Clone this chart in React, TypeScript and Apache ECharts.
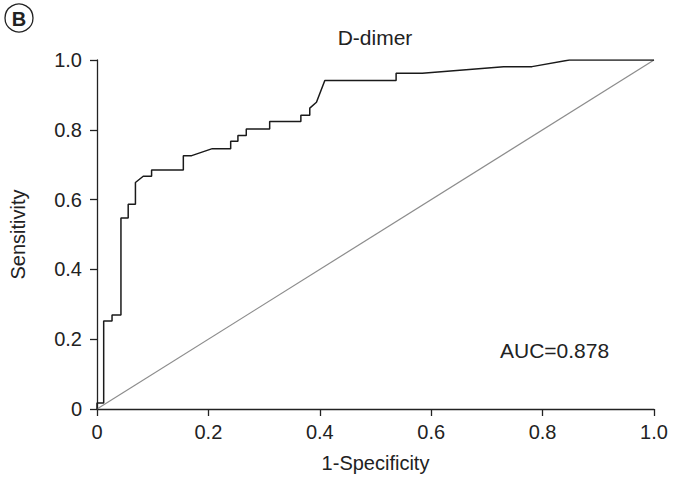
import React, { useEffect, useRef } from "react";
import * as echarts from "echarts";

const fpr = [0, 0, 0.012, 0.012, 0.027, 0.027, 0.043, 0.043, 0.056, 0.056, 0.069, 0.069, 0.083, 0.098, 0.098, 0.155, 0.155, 0.17, 0.207, 0.24, 0.24, 0.253, 0.253, 0.268, 0.268, 0.31, 0.31, 0.366, 0.366, 0.382, 0.382, 0.394, 0.409, 0.537, 0.537, 0.584, 0.73, 0.781, 0.848, 1.0];
const tpr = [0, 0.017, 0.017, 0.252, 0.252, 0.269, 0.269, 0.547, 0.547, 0.587, 0.587, 0.649, 0.667, 0.667, 0.685, 0.685, 0.726, 0.726, 0.746, 0.746, 0.767, 0.767, 0.784, 0.784, 0.802, 0.802, 0.824, 0.824, 0.842, 0.842, 0.862, 0.879, 0.941, 0.941, 0.962, 0.962, 0.981, 0.981, 1.0, 1.0];
const refX = [0, 1];
const refY = [0, 1];
const titleText = "D-dimer";
const aucText = "AUC=0.878";
const xName = "1-Specificity";
const yName = "Sensitivity";
const panelLabel = "B";

const FONT = "'Liberation Sans', Arial, sans-serif";
const fmt = (v: number) => (v === 0 ? "0" : v.toFixed(1));

export default function App() {
  const ref = useRef<HTMLDivElement>(null);
  useEffect(() => {
    if (!ref.current) return;
    const chart = echarts.init(ref.current, undefined, { renderer: "svg" });
    const axisCommon = {
      type: "value" as const,
      min: 0,
      max: 1,
      interval: 0.2,
      nameLocation: "middle" as const,
      nameTextStyle: { fontFamily: FONT, fontSize: 20, color: "#222" },
      axisLine: { show: true, lineStyle: { color: "#222", width: 1.3 } },
      axisTick: { show: true, length: 7, lineStyle: { color: "#222", width: 1.3 } },
      axisLabel: { formatter: fmt, fontFamily: FONT, fontSize: 20, color: "#222" },
      splitLine: { show: false },
    };
    chart.setOption({
      animation: false,
      backgroundColor: "#fff",
      grid: { left: 96, right: 19, top: 60, bottom: 67, containLabel: false },
      xAxis: { ...axisCommon, name: xName, nameGap: 44, axisLabel: { ...axisCommon.axisLabel, margin: 13 } },
      yAxis: { ...axisCommon, name: yName, nameGap: 69, axisLabel: { ...axisCommon.axisLabel, margin: 15 } },
      series: [
        {
          type: "line",
          data: refX.map((x, i) => [x, refY[i]]),
          symbol: "none",
          lineStyle: { color: "#8c8c8c", width: 1.2 },
          z: 1,
        },
        {
          type: "line",
          data: fpr.map((x, i) => [x, tpr[i]]),
          symbol: "none",
          lineStyle: { color: "#1a1a1a", width: 1.5 },
          z: 2,
        },
      ],
      graphic: [
        {
          type: "text",
          x: 375,
          y: 37,
          style: { text: titleText, font: `21px ${FONT}`, fill: "#222", align: "center", verticalAlign: "middle" },
        },
        {
          type: "text",
          x: 500,
          y: 350,
          style: { text: aucText, font: `21px ${FONT}`, fill: "#222", align: "left", verticalAlign: "middle" },
        },
        {
          type: "circle",
          shape: { cx: 19, cy: 18, r: 14 },
          style: { fill: "none", stroke: "#222", lineWidth: 1.3 },
        },
        {
          type: "text",
          x: 19,
          y: 19,
          style: { text: panelLabel, font: `bold 20px ${FONT}`, fill: "#222", align: "center", verticalAlign: "middle" },
        },
      ],
    });
    return () => chart.dispose();
  }, []);
  return <div ref={ref} style={{ position: "fixed", left: 0, top: 0, width: 673, height: 478 }} />;
}
